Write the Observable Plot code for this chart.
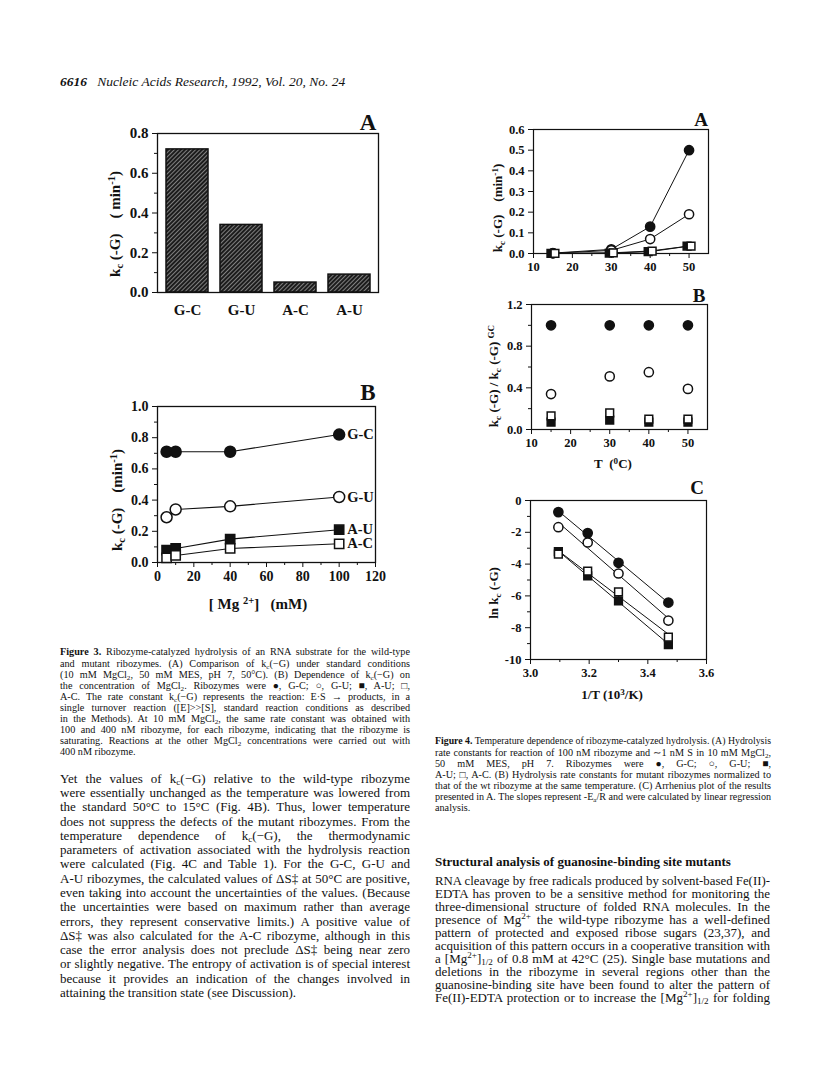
<!DOCTYPE html>
<html><head><meta charset="utf-8">
<script src="https://cdn.jsdelivr.net/npm/d3@7"></script>
<script src="https://cdn.jsdelivr.net/npm/@observablehq/plot@0.6"></script>
<style>
html,body{margin:0;padding:0;background:#fff;}
#page{position:relative;width:816px;height:1077px;overflow:hidden;font-family:"Liberation Serif","Times New Roman",serif;color:#111;}
.abs{position:absolute;white-space:nowrap;}
.line{position:absolute;white-space:nowrap;}
sub,sup{font-size:0.7em;line-height:0;vertical-align:baseline;position:relative;}
sub{top:0.28em;}
sup{top:-0.45em;}
</style></head><body><div id="page"></div>
<script>
// ---------- data ----------
const fig3aPairs = ["G-C", "G-U", "A-C", "A-U"];
const fig3aRates = [0.72, 0.34, 0.05, 0.09];

const fig3bMg = [5, 10, 40, 100];
const fig3bGC = [0.71, 0.71, 0.71, 0.82];
const fig3bGU = [0.29, 0.34, 0.36, 0.42];
const fig3bAU = [0.08, 0.09, 0.15, 0.21];
const fig3bAC = [0.03, 0.045, 0.09, 0.12];
const fig3bLabels = ["G-C", "G-U", "A-U", "A-C"];

const fig4Temp = [15, 30, 40, 50];
const fig4aGC = [0.002, 0.02, 0.13, 0.50];
const fig4aGU = [0.001, 0.015, 0.07, 0.19];
const fig4aAU = [0.0001, 0.002, 0.009, 0.036];
const fig4aAC = [0.0002, 0.003, 0.012, 0.036];

const fig4bGC = [1.0, 1.0, 1.0, 1.0];
const fig4bGU = [0.34, 0.51, 0.55, 0.39];
const fig4bAC = [0.13, 0.16, 0.10, 0.10];
const fig4bAU = [0.07, 0.09, 0.07, 0.07];

const fig4cInvT = [3.47, 3.30, 3.195, 3.095];
const fig4cGC = [-6.42, -3.92, -2.05, -0.73];
const fig4cGU = [-7.55, -4.59, -2.64, -1.68];
const fig4cAU = [-9.06, -6.31, -4.74, -3.21];
const fig4cAC = [-8.60, -5.74, -4.44, -3.38];

// tick values
const ticks3aY = [0, 0.2, 0.4, 0.6, 0.8];
const minor3aY = [0.1, 0.3, 0.5, 0.7];
const ticks3bX = [0, 20, 40, 60, 80, 100, 120];
const minor3bX = [10, 30, 50, 70, 90, 110];
const ticks3bY = [0, 0.2, 0.4, 0.6, 0.8, 1.0];
const minor3bY = [0.1, 0.3, 0.5, 0.7, 0.9];
const ticks4X = [10, 20, 30, 40, 50];
const minor4X = [15, 25, 35, 45];
const ticks4aY = [0, 0.1, 0.2, 0.3, 0.4, 0.5, 0.6];
const ticks4bY = [0, 0.4, 0.8, 1.2];
const minor4bY = [0.2, 0.6, 1.0];
const ticks4cX = [3.0, 3.2, 3.4, 3.6];
const minor4cX = [3.1, 3.3, 3.5];
const ticks4cY = [0, -2, -4, -6, -8, -10];
const minor4cY = [-1, -3, -5, -7, -9];

// ---------- helpers ----------
const page = document.getElementById("page");

function rows(xs, series) {
  const out = [];
  for (const [s, ys] of Object.entries(series)) xs.forEach((x, i) => out.push({x, y: ys[i], s}));
  return out;
}

function seriesDots(data, r, opts = {}) {
  const sym = {GC: ["circle", "#111"], GU: ["circle", "white"], AU: ["square", "#111"], AC: ["square", "white"]};
  return ["GC", "GU", "AU", "AC"].map(s => Plot.dot(data.filter(d => d.s === s), {
    x: "x", y: "y", r: sym[s][0] === "square" ? r * 0.95 : r, symbol: sym[s][0], fill: sym[s][1],
    stroke: "#111", strokeWidth: 1.5, dx: (opts.dx && opts.dx[s]) || 0
  }));
}

function axes(xt, xm, xf, yt, ym, yf, pad = 4) {
  const m = [
    Plot.axisX({ticks: xt, tickFormat: xf, tickSize: 5, tickPadding: pad, label: null}),
    Plot.axisY({ticks: yt, tickFormat: yf, tickSize: 5, tickPadding: pad, label: null})
  ];
  if (xm) m.push(Plot.axisX({ticks: xm, tickFormat: () => "", tickSize: 3, label: null}));
  if (ym) m.push(Plot.axisY({ticks: ym, tickFormat: () => "", tickSize: 3, label: null}));
  return m;
}

function chart({fx, fy, fw, fh, ml = 45, mt = 8, mr = 8, mb = 30, x, y, marks, fontSize = 13}) {
  const p = Plot.plot({
    width: ml + fw + mr, height: mt + fh + mb,
    marginLeft: ml, marginTop: mt, marginRight: mr, marginBottom: mb,
    x, y,
    style: {fontFamily: "Liberation Serif", fontSize: fontSize + "px", fontWeight: "bold", background: "transparent", color: "#111", overflow: "visible"},
    marks
  });
  p.style.position = "absolute";
  p.style.left = (fx - ml) + "px";
  p.style.top = (fy - mt) + "px";
  page.appendChild(p);
  return p;
}

function txt(html, cx, cy, {size = 13, bold = true, italic = false, rotate = 0, anchor = "middle"} = {}) {
  const d = document.createElement("div");
  d.className = "abs";
  d.innerHTML = html;
  d.style.fontSize = size + "px";
  d.style.fontWeight = bold ? "bold" : "normal";
  d.style.fontStyle = italic ? "italic" : "normal";
  d.style.lineHeight = "1";
  d.style.left = cx + "px";
  d.style.top = cy + "px";
  d.style.transform = `translate(${anchor === "start" ? "0" : "-50%"},-50%) rotate(${rotate}deg)`;
  page.appendChild(d);
  return d;
}

function para(lines, {left, top, width, lh, size, lastJust = false, weight = "normal"}) {
  lines.forEach((html, i) => {
    const d = document.createElement("div");
    d.className = "line";
    d.style.left = left + "px";
    d.style.top = (top + i * lh - lh / 2) + "px";
    d.style.fontSize = size + "px";
    d.style.lineHeight = lh + "px";
    d.style.fontWeight = weight;
    d.innerHTML = html;
    page.appendChild(d);
    const justify = lastJust || i < lines.length - 1;
    const w = d.getBoundingClientRect().width;
    if (w > width) {
      d.style.transformOrigin = "0 0";
      d.style.transform = `scaleX(${width / w})`;
    } else if (justify) {
      const spaces = (d.textContent.match(/ /g) || []).length;
      if (spaces) d.style.wordSpacing = ((width - w) / spaces) + "px";
    }
  });
}

// ---------- header ----------
txt('<b>6616</b>&nbsp;&nbsp;&nbsp;Nucleic Acids Research, 1992, Vol. 20, No. 24', 60, 82, {size: 13.5, bold: false, italic: true, anchor: "start"});

// ---------- Figure 3A ----------
const p3a = chart({
  fx: 157, fy: 133, fw: 221, fh: 159, ml: 50, mt: 10, mr: 10, mb: 40, fontSize: 15,
  x: {type: "band", domain: fig3aPairs, paddingInner: 0.23, paddingOuter: 0.14},
  y: {domain: [0, 0.8]},
  marks: [
    Plot.barY(fig3aPairs, {x: d => d, y: fig3aRates, fill: "url(#hatch3a)", stroke: "#111", strokeWidth: 1.5}),
    Plot.frame({stroke: "#111", strokeWidth: 1.3}),
    Plot.axisX({tickSize: 0, tickPadding: 12, label: null}),
    Plot.axisY({ticks: ticks3aY, tickFormat: d3.format(".1f"), tickSize: 5, tickPadding: 4, label: null}),
    Plot.axisY({ticks: minor3aY, tickFormat: () => "", tickSize: 3, label: null})
  ]
});
{
  const pat = d3.select(p3a).insert("defs", ":first-child").append("pattern")
    .attr("id", "hatch3a").attr("patternUnits", "userSpaceOnUse")
    .attr("width", 3).attr("height", 3).attr("patternTransform", "rotate(45)");
  pat.append("rect").attr("width", 3).attr("height", 3).attr("fill", "#1c1c1c");
  pat.append("line").attr("x1", 0.5).attr("y1", 0).attr("x2", 0.5).attr("y2", 3).attr("stroke", "#8a8a8a").attr("stroke-width", 0.9);
}
txt("A", 368, 122, {size: 23});
txt('k<sub>c</sub> (-G)&nbsp;&nbsp;&nbsp;&nbsp;( min<sup>-1</sup>)', 115, 224, {size: 15, rotate: -90});

// ---------- Figure 3B ----------
const d3b = rows(fig3bMg, {GC: fig3bGC, GU: fig3bGU, AU: fig3bAU, AC: fig3bAC});
const last3b = [fig3bGC, fig3bGU, fig3bAU, fig3bAC].map(a => a[a.length - 1]);
chart({
  fx: 157, fy: 406, fw: 218, fh: 156, ml: 50, mt: 10, mr: 10, mb: 30, fontSize: 14,
  x: {domain: [0, 120]}, y: {domain: [0, 1.0]},
  marks: [
    Plot.frame({stroke: "#111", strokeWidth: 1.3}),
    ...axes(ticks3bX, minor3bX, d3.format("d"), ticks3bY, minor3bY, d3.format(".1f")),
    Plot.line(d3b, {x: "x", y: "y", z: "s", stroke: "#111", strokeWidth: 1.1}),
    ...seriesDots(d3b, 5.5),
    Plot.text(fig3bLabels, {x: () => fig3bMg[fig3bMg.length - 1], y: (d, i) => last3b[i], text: d => d, textAnchor: "start", dx: 8, fontSize: 14.5, fontWeight: "bold"})
  ]
});
txt("B", 368, 392, {size: 23});
txt('k<sub>c</sub> (-G)&nbsp;&nbsp;&nbsp;&nbsp;(min<sup>-1</sup>)', 117, 500, {size: 15, rotate: -90});
txt('[ Mg <sup>2+</sup>]&nbsp;&nbsp;&nbsp;(mM)', 258, 604, {size: 15});

// ---------- Figure 4A ----------
const d4a = rows(fig4Temp, {GC: fig4aGC, GU: fig4aGU, AU: fig4aAU, AC: fig4aAC});
chart({
  fx: 533, fy: 129, fw: 175, fh: 124, fontSize: 12.5,
  x: {domain: [10, 55]}, y: {domain: [0, 0.6]},
  marks: [
    Plot.frame({stroke: "#111", strokeWidth: 1.2}),
    ...axes(ticks4X, minor4X, d3.format("d"), ticks4aY, null, d3.format(".1f")),
    Plot.line(d4a, {x: "x", y: "y", z: "s", stroke: "#111", strokeWidth: 1}),
    ...seriesDots(d4a, 4.6, {dx: {AU: -2, AC: 2}})
  ]
});
txt("A", 701, 119, {size: 19});
txt('k<sub>c</sub> (-G)&nbsp;&nbsp;&nbsp;&nbsp;(min<sup>-1</sup>)', 497, 208, {size: 13, rotate: -90});

// ---------- Figure 4B ----------
const d4b = rows(fig4Temp, {GC: fig4bGC, GU: fig4bGU, AU: fig4bAU, AC: fig4bAC});
chart({
  fx: 531, fy: 304, fw: 176, fh: 125, fontSize: 12.5,
  x: {domain: [10, 55]}, y: {domain: [0, 1.2]},
  marks: [
    Plot.frame({stroke: "#111", strokeWidth: 1.2}),
    ...axes(ticks4X, minor4X, d3.format("d"), ticks4bY, minor4bY, d3.format(".1f")),
    ...seriesDots(d4b, 4.6)
  ]
});
txt("B", 699, 295, {size: 19});
txt('k<sub>c</sub> (-G) / k<sub>c</sub> (-G) <sup>GC</sup>', 493, 376, {size: 13, rotate: -90});
txt('T&nbsp;&nbsp;(<sup>0</sup>C)', 613, 463, {size: 13});

// ---------- Figure 4C ----------
const d4c = rows(fig4cInvT, {GC: fig4cGC, GU: fig4cGU, AU: fig4cAU, AC: fig4cAC});
chart({
  fx: 530, fy: 500, fw: 176, fh: 159, fontSize: 12.5,
  x: {domain: [3.0, 3.6]}, y: {domain: [-10, 0]},
  marks: [
    Plot.frame({stroke: "#111", strokeWidth: 1.2}),
    ...axes(ticks4cX, minor4cX, d3.format(".1f"), ticks4cY, minor4cY, d => String(d)),
    Plot.linearRegressionY(d4c, {x: "x", y: "y", z: "s", stroke: "#111", strokeWidth: 1, ci: 0}),
    ...seriesDots(d4c, 4.6)
  ]
});
txt("C", 697, 487, {size: 19});
txt('ln k<sub>c</sub> (-G)', 493, 593, {size: 13, rotate: -90});
txt('1/T (10<sup>3</sup>/K)', 612, 694, {size: 13});

// ---------- captions and body text ----------
para([
  '<b>Figure 3.</b> Ribozyme-catalyzed hydrolysis of an RNA substrate for the wild-type',
  'and mutant ribozymes. (A) Comparison of k<sub>c</sub>(−G) under standard conditions',
  '(10 mM MgCl<sub>2</sub>, 50 mM MES, pH 7, 50°C). (B) Dependence of k<sub>c</sub>(−G) on',
  'the concentration of MgCl<sub>2</sub>. Ribozymes were ●, G-C; ○, G-U; ■, A-U; □,',
  'A-C. The rate constant k<sub>c</sub>(−G) represents the reaction: E·S → products, in a',
  'single turnover reaction ([E]&gt;&gt;[S], standard reaction conditions as described',
  'in the Methods). At 10 mM MgCl<sub>2</sub>, the same rate constant was obtained with',
  '100 and 400 nM ribozyme, for each ribozyme, indicating that the ribozyme is',
  'saturating. Reactions at the other MgCl<sub>2</sub> concentrations were carried out with',
  '400 nM ribozyme.'
], {left: 60, top: 652, width: 350, lh: 11.1, size: 10.2});

para([
  'Yet the values of k<sub>c</sub>(−G) relative to the wild-type ribozyme',
  'were essentially unchanged as the temperature was lowered from',
  'the standard 50°C to 15°C (Fig. 4B). Thus, lower temperature',
  'does not suppress the defects of the mutant ribozymes. From the',
  'temperature dependence of k<sub>c</sub>(−G), the thermodynamic',
  'parameters of activation associated with the hydrolysis reaction',
  'were calculated (Fig. 4C and Table 1). For the G-C, G-U and',
  'A-U ribozymes, the calculated values of ΔS‡ at 50°C are positive,',
  'even taking into account the uncertainties of the values. (Because',
  'the uncertainties were based on maximum rather than average',
  'errors, they represent conservative limits.) A positive value of',
  'ΔS‡ was also calculated for the A-C ribozyme, although in this',
  'case the error analysis does not preclude ΔS‡ being near zero',
  'or slightly negative. The entropy of activation is of special interest',
  'because it provides an indication of the changes involved in',
  'attaining the transition state (see Discussion).'
], {left: 60, top: 779, width: 350, lh: 14.27, size: 13});

para([
  '<b>Figure 4.</b> Temperature dependence of ribozyme-catalyzed hydrolysis. (A) Hydrolysis',
  'rate constants for reaction of 100 nM ribozyme and ∼1 nM S in 10 mM MgCl<sub>2</sub>,',
  '50 mM MES, pH 7. Ribozymes were ●, G-C; ○, G-U; ■,',
  'A-U; □, A-C. (B) Hydrolysis rate constants for mutant ribozymes normalized to',
  'that of the wt ribozyme at the same temperature. (C) Arrhenius plot of the results',
  'presented in A. The slopes represent -E<sub>a</sub>/R and were calculated by linear regression',
  'analysis.'
], {left: 435, top: 741, width: 336, lh: 11.1, size: 10.2});

para(['Structural analysis of guanosine-binding site mutants'],
  {left: 435, top: 862, width: 335, lh: 14.27, size: 13, weight: "bold"});

para([
  'RNA cleavage by free radicals produced by solvent-based Fe(II)-',
  'EDTA has proven to be a sensitive method for monitoring the',
  'three-dimensional structure of folded RNA molecules. In the',
  'presence of Mg<sup>2+</sup> the wild-type ribozyme has a well-defined',
  'pattern of protected and exposed ribose sugars (23,37), and',
  'acquisition of this pattern occurs in a cooperative transition with',
  'a [Mg<sup>2+</sup>]<sub>1/2</sub> of 0.8 mM at 42°C (25). Single base mutations and',
  'deletions in the ribozyme in several regions other than the',
  'guanosine-binding site have been found to alter the pattern of',
  'Fe(II)-EDTA protection or to increase the [Mg<sup>2+</sup>]<sub>1/2</sub> for folding'
], {left: 435, top: 880, width: 335, lh: 13.0, size: 13, lastJust: true});
</script></body></html>
